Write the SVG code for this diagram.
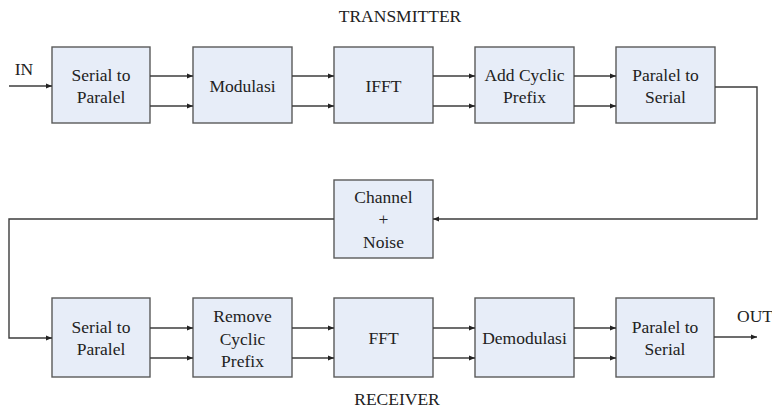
<svg xmlns="http://www.w3.org/2000/svg" width="772" height="409" viewBox="0 0 772 409">
  <style>
    .box { fill: #e7edf8; stroke: #5a5a5a; stroke-width: 1.4; }
    .wire { fill: none; stroke: #3c3c3c; stroke-width: 1.4; }
    svg g text, svg text.lbl, text { font-family: "Liberation Serif", "Times New Roman", serif !important; font-size: 17.5px; fill: #222; text-anchor: middle; }
  </style>
  <defs>
    <marker id="arr" viewBox="0 0 6 6" refX="6" refY="3" markerWidth="6" markerHeight="6" markerUnits="userSpaceOnUse" orient="auto">
      <path d="M0,0.6 L6,3 L0,5.4 Z" fill="#222"/>
    </marker>
  </defs>

  <rect width="772" height="409" fill="#ffffff"/>

  <!-- section titles -->
  <text class="lbl" x="400" y="22">TRANSMITTER</text>
  <text class="lbl" x="397" y="405">RECEIVER</text>
  <text class="lbl" x="24" y="75">IN</text>
  <text class="lbl" x="755" y="322">OUT</text>

  <!-- transmitter chain -->
  <g id="tx-s2p"><rect class="box" x="52" y="47" width="98" height="76"/>
    <text class="lbl" x="101" y="81">Serial to</text><text class="lbl" x="101" y="103">Paralel</text></g>
  <g id="tx-mod"><rect class="box" x="193" y="47" width="99" height="76"/>
    <text class="lbl" x="242.5" y="92">Modulasi</text></g>
  <g id="tx-ifft"><rect class="box" x="334" y="47" width="99" height="76"/>
    <text class="lbl" x="383.5" y="92">IFFT</text></g>
  <g id="tx-cp"><rect class="box" x="475" y="47" width="99" height="76"/>
    <text class="lbl" x="524.5" y="81">Add Cyclic</text><text class="lbl" x="524.5" y="103">Prefix</text></g>
  <g id="tx-p2s"><rect class="box" x="616" y="47" width="99" height="76"/>
    <text class="lbl" x="665.5" y="81">Paralel to</text><text class="lbl" x="665.5" y="103">Serial</text></g>

  <!-- channel -->
  <g id="channel"><rect class="box" x="334" y="180" width="99" height="78"/>
    <text class="lbl" x="383.5" y="203">Channel</text><text class="lbl" x="383.5" y="225">+</text><text class="lbl" x="383.5" y="248">Noise</text></g>

  <!-- receiver chain -->
  <g id="rx-s2p"><rect class="box" x="52" y="298" width="98" height="79"/>
    <text class="lbl" x="101" y="333">Serial to</text><text class="lbl" x="101" y="355">Paralel</text></g>
  <g id="rx-cp"><rect class="box" x="193" y="298" width="99" height="79"/>
    <text class="lbl" x="242.5" y="322">Remove</text><text class="lbl" x="242.5" y="344.5">Cyclic</text><text class="lbl" x="242.5" y="367">Prefix</text></g>
  <g id="rx-fft"><rect class="box" x="334" y="298" width="99" height="79"/>
    <text class="lbl" x="383.5" y="344">FFT</text></g>
  <g id="rx-demod"><rect class="box" x="475" y="298" width="99" height="79"/>
    <text class="lbl" x="524.5" y="344">Demodulasi</text></g>
  <g id="rx-p2s"><rect class="box" x="616" y="298" width="98" height="79"/>
    <text class="lbl" x="665" y="333">Paralel to</text><text class="lbl" x="665" y="355">Serial</text></g>

  <!-- connectors -->
  <g id="connectors">
    <path class="wire" d="M9,86 H52" marker-end="url(#arr)"/>
    <path class="wire" d="M150,76 H193" marker-end="url(#arr)"/>
    <path class="wire" d="M150,106 H193" marker-end="url(#arr)"/>
    <path class="wire" d="M292,76 H334" marker-end="url(#arr)"/>
    <path class="wire" d="M292,106 H334" marker-end="url(#arr)"/>
    <path class="wire" d="M433,76 H475" marker-end="url(#arr)"/>
    <path class="wire" d="M433,106 H475" marker-end="url(#arr)"/>
    <path class="wire" d="M574,76 H616" marker-end="url(#arr)"/>
    <path class="wire" d="M574,106 H616" marker-end="url(#arr)"/>
    <path class="wire" d="M715,87 H757 V219 H433" marker-end="url(#arr)"/>
    <path class="wire" d="M334,219 H9 V338 H52" marker-end="url(#arr)"/>
    <path class="wire" d="M150,328 H193" marker-end="url(#arr)"/>
    <path class="wire" d="M150,358 H193" marker-end="url(#arr)"/>
    <path class="wire" d="M292,328 H334" marker-end="url(#arr)"/>
    <path class="wire" d="M292,358 H334" marker-end="url(#arr)"/>
    <path class="wire" d="M433,328 H475" marker-end="url(#arr)"/>
    <path class="wire" d="M433,358 H475" marker-end="url(#arr)"/>
    <path class="wire" d="M574,328 H616" marker-end="url(#arr)"/>
    <path class="wire" d="M574,358 H616" marker-end="url(#arr)"/>
    <path class="wire" d="M714,337 H757" marker-end="url(#arr)"/>
  </g>
</svg>
